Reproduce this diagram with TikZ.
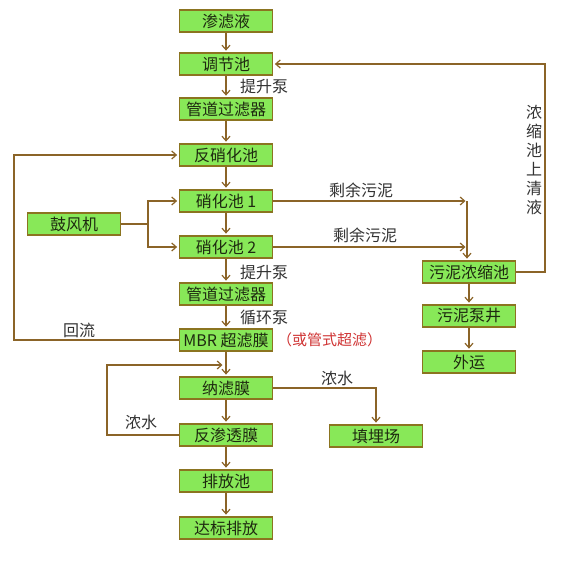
\documentclass[tikz,border=0pt]{standalone}
\usepackage{fontspec}
\setmainfont{Noto Sans CJK SC}
\usetikzlibrary{arrows.meta}
\definecolor{boxfill}{HTML}{88E858}
\definecolor{boxdraw}{HTML}{8B7420}
\definecolor{linec}{HTML}{8B6428}
\definecolor{txt}{HTML}{1E2A10}
\definecolor{lbl}{HTML}{333333}
\definecolor{redt}{HTML}{D03434}
\tikzset{
  box/.style={draw=boxdraw, fill=boxfill, line width=1.8pt, minimum width=93pt, minimum height=22pt, inner sep=0pt, text=txt, font=\fontsize{16}{16}\selectfont},
  arr/.style={draw=linec, line width=1.4pt, -{Straight Barb[length=4.5pt,width=8pt,line width=1.2pt]}, shorten >=1.5pt},
  ln/.style={draw=linec, line width=1.4pt},
  lab/.style={text=lbl, font=\fontsize{16}{16}\selectfont, inner sep=0pt}
}
\begin{document}
\begin{tikzpicture}[x=1pt,y=-1pt]
\useasboundingbox (0,0) rectangle (560,562);
\fill[white] (0,0) rectangle (560,562);
% main column
\node[box] (n1) at (226,21) {渗滤液};
\node[box] (n2) at (226,64) {调节池};
\node[box] (n3) at (226,109) {管道过滤器};
\node[box] (n4) at (226,155) {反硝化池};
\node[box] (n5) at (226,201) {硝化池 1};
\node[box] (n6) at (226,247) {硝化池 2};
\node[box] (n7) at (226,294) {管道过滤器};
\node[box] (n8) at (226,340) {MBR 超滤膜};
\node[box] (n9) at (226,388) {纳滤膜};
\node[box] (n10) at (226,435) {反渗透膜};
\node[box] (n11) at (226,481) {排放池};
\node[box] (n12) at (226,528) {达标排放};
% side boxes
\node[box] (b) at (74,224) {鼓风机};
\node[box] (s1) at (469,272) {污泥浓缩池};
\node[box] (s2) at (469,316) {污泥泵井};
\node[box] (s3) at (469,362) {外运};
\node[box] (t) at (376,436) {填埋场};
% vertical arrows
\draw[arr] (n1) -- (n2);
\draw[arr] (n2) -- (n3);
\draw[arr] (n3) -- (n4);
\draw[arr] (n4) -- (n5);
\draw[arr] (n5) -- (n6);
\draw[arr] (n6) -- (n7);
\draw[arr] (n7) -- (n8);
\draw[arr] (n8) -- (n9);
\draw[arr] (n9) -- (n10);
\draw[arr] (n10) -- (n11);
\draw[arr] (n11) -- (n12);
\draw[arr] (s1) -- (s2);
\draw[arr] (s2) -- (s3);
% blower
\coordinate (bj) at (148,224);
\draw[ln] (b.east) -- (bj);
\draw[arr] (bj) |- (n5.west);
\draw[arr] (bj) |- (n6.west);
% excess sludge
\coordinate (c1) at (467,201);
\coordinate (c2) at (467,247);
\draw[arr] (n5.east) -- (c1);
\draw[arr] (n6.east) -- (c2);
\draw[arr] (c1) -- (c1 |- s1.north);
% supernatant return
\coordinate (r) at (545,64);
\draw[arr] (s1.east) -| (r) -- (n2.east);
% reflux
\coordinate (l) at (14,155);
\draw[arr] (n8.west) -| (l) -- (n4.west);
% RO concentrate loop
\coordinate (lp) at (107,365);
\coordinate (lpe) at (224,365);
\draw[arr] (n10.west) -| (lp) -- (lpe);
% NF concentrate
\draw[arr] (n9.east) -| (t.north);
% labels
\node[lab] (L1) at (264,86) {提升泵};
\node[lab] (L2) at (264,272) {提升泵};
\node[lab] (L3) at (264,317) {循环泵};
\node[lab] (L4) at (79,330) {回流};
\node[lab] (L5) at (361,190) {剩余污泥};
\node[lab] (L6) at (365,235) {剩余污泥};
\node[lab, align=center, font=\fontsize{16}{19}\selectfont] (L7) at (534,160) {浓\\缩\\池\\上\\清\\液};
\node[lab] (L8) at (337,378) {浓水};
\node[lab] (L9) at (141,422) {浓水};
\node[lab, text=redt, anchor=west, font=\fontsize{15}{15}\selectfont] (L10) at (277,340) {（或管式超滤）};
\end{tikzpicture}
\end{document}
